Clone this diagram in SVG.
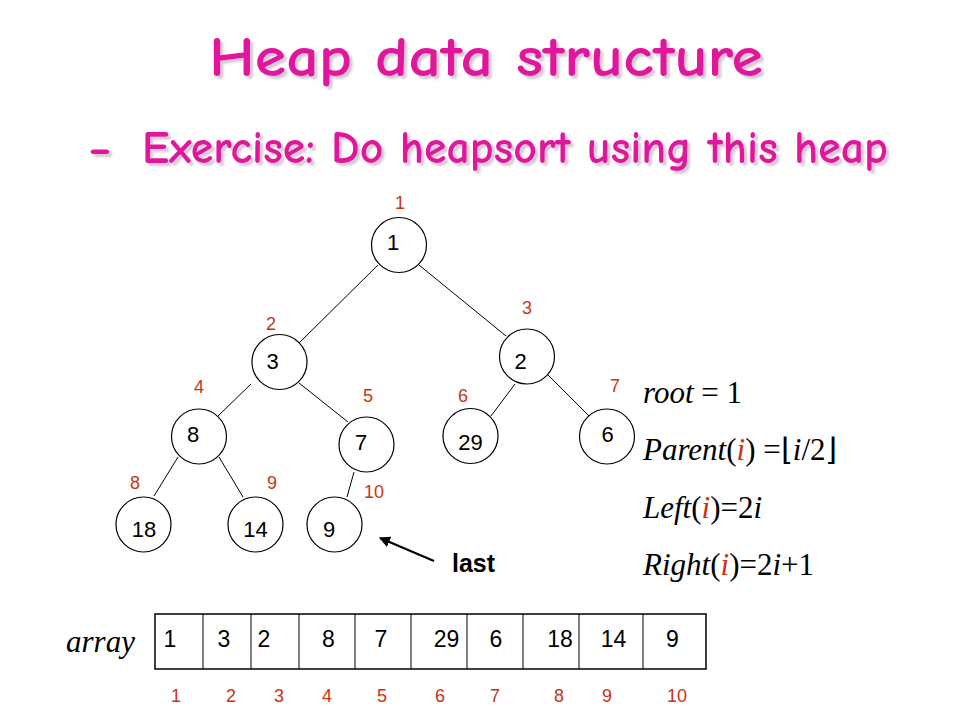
<svg xmlns="http://www.w3.org/2000/svg" width="960" height="720" viewBox="0 0 960 720">
<style>
.title{font-family:"Comic Sans MS","Comic Neue","Open Sans",sans-serif;fill:#e0139c;font-weight:bold}
.node circle{fill:#fff;stroke:#000;stroke-width:1.2}
.val{font-family:"Liberation Sans",Arial,sans-serif;font-size:22px;fill:#000;text-anchor:middle}
.idx{font-family:"Liberation Sans",Arial,sans-serif;font-size:18px;fill:#cc3311;text-anchor:middle}
.edge{stroke:#000;stroke-width:1;fill:none}
.f{font-family:"Liberation Serif","Times New Roman",serif;font-size:31px;fill:#000}
.it{font-style:italic}
.ri{fill:#cc3311;font-style:italic}
.cell{fill:#fff;stroke:#000;stroke-width:1.5}
.aval{font-family:"Liberation Sans",Arial,sans-serif;font-size:23px;fill:#000;text-anchor:middle}
</style>
<defs>
<marker id="ah" viewBox="0 0 10 10" refX="9" refY="5" markerWidth="5" markerHeight="5" orient="auto" markerUnits="strokeWidth">
<path d="M0,0 L10,5 L0,10 z" fill="#000"/>
</marker>
<filter id="sh" x="-5%" y="-20%" width="110%" height="150%">
<feDropShadow dx="3" dy="3" stdDeviation="1.2" flood-color="#b898b0" flood-opacity="0.55"/>
</filter>
</defs>
<rect width="960" height="720" fill="#fff"/>

<g id="title" filter="url(#sh)">
<text class="title" x="209" y="76" font-size="57" textLength="554" lengthAdjust="spacingAndGlyphs">Heap data structure</text>
<text class="title" x="88" y="163" font-size="46" textLength="24" lengthAdjust="spacingAndGlyphs">-</text>
<text class="title" x="142" y="163" font-size="46" textLength="746" lengthAdjust="spacingAndGlyphs">Exercise: Do heapsort using this heap</text>
</g>

<g id="connectors">
<line class="edge" x1="378" y1="265" x2="298" y2="344"/>
<line class="edge" x1="419" y1="265" x2="506" y2="336"/>
<line class="edge" x1="251" y1="384" x2="218" y2="416"/>
<line class="edge" x1="299" y1="383" x2="348" y2="422"/>
<line class="edge" x1="515" y1="384" x2="491" y2="416"/>
<line class="edge" x1="547" y1="374" x2="589" y2="416"/>
<line class="edge" x1="178" y1="457" x2="154" y2="496"/>
<line class="edge" x1="219" y1="457" x2="243" y2="497"/>
<line class="edge" x1="354" y1="472" x2="347" y2="497"/>
<line x1="434" y1="561" x2="380" y2="538" stroke="#000" stroke-width="2.2" marker-end="url(#ah)"/>
</g>

<g id="n1" class="node"><circle cx="399" cy="245" r="27.5"/><text class="val" x="393" y="250">1</text></g>
<g id="n2" class="node"><circle cx="279.5" cy="362" r="27.5"/><text class="val" x="272.5" y="369">3</text></g>
<g id="n3" class="node"><circle cx="527" cy="356.5" r="27.5"/><text class="val" x="520.5" y="369">2</text></g>
<g id="n4" class="node"><circle cx="199" cy="436.5" r="27.5"/><text class="val" x="193" y="442">8</text></g>
<g id="n5" class="node"><circle cx="366.5" cy="444.5" r="27.5"/><text class="val" x="361" y="450">7</text></g>
<g id="n6" class="node"><circle cx="470.5" cy="436" r="27.5"/><text class="val" x="470.5" y="450">29</text></g>
<g id="n7" class="node"><circle cx="607" cy="436.5" r="27.5"/><text class="val" x="607.5" y="442">6</text></g>
<g id="n8" class="node"><circle cx="143.5" cy="524.5" r="27.5"/><text class="val" x="144" y="537">18</text></g>
<g id="n9" class="node"><circle cx="255.5" cy="524.5" r="27.5"/><text class="val" x="255.5" y="537">14</text></g>
<g id="n10" class="node"><circle cx="334.5" cy="524.5" r="27.5"/><text class="val" x="329" y="537">9</text></g>

<g id="tree-indices">
<text class="idx" x="400" y="209">1</text>
<text class="idx" x="271" y="330">2</text>
<text class="idx" x="527" y="314">3</text>
<text class="idx" x="199" y="393">4</text>
<text class="idx" x="368" y="402">5</text>
<text class="idx" x="463" y="402">6</text>
<text class="idx" x="615" y="392">7</text>
<text class="idx" x="135" y="489">8</text>
<text class="idx" x="272" y="489">9</text>
<text class="idx" x="374" y="498">10</text>
</g>

<g id="last-label">
<text x="452" y="572" font-family="Liberation Sans, Arial, sans-serif" font-size="25" font-weight="bold" fill="#000">last</text>
</g>

<g id="formulas">
<text class="f" x="643" y="403"><tspan class="it">root</tspan> = 1</text>
<text class="f" x="643" y="460"><tspan class="it">Parent</tspan>(<tspan class="ri">i</tspan>) =⌊<tspan class="it">i</tspan>/2⌋</text>
<text class="f" x="643" y="518"><tspan class="it">Left</tspan>(<tspan class="ri">i</tspan>)=2<tspan class="it">i</tspan></text>
<text class="f" x="643" y="575"><tspan class="it">Right</tspan>(<tspan class="ri">i</tspan>)=2<tspan class="it">i</tspan>+1</text>
</g>

<g id="array">
<text class="f it" x="66" y="652" font-size="32">array</text>
<rect class="cell" x="155" y="614" width="551" height="55"/>
<line class="edge" x1="203" y1="614" x2="203" y2="669"/>
<line class="edge" x1="251" y1="614" x2="251" y2="669"/>
<line class="edge" x1="299" y1="614" x2="299" y2="669"/>
<line class="edge" x1="355" y1="614" x2="355" y2="669"/>
<line class="edge" x1="411" y1="614" x2="411" y2="669"/>
<line class="edge" x1="467" y1="614" x2="467" y2="669"/>
<line class="edge" x1="523" y1="614" x2="523" y2="669"/>
<line class="edge" x1="579" y1="614" x2="579" y2="669"/>
<line class="edge" x1="643" y1="614" x2="643" y2="669"/>
<text class="aval" x="170" y="647">1</text>
<text class="aval" x="224" y="647">3</text>
<text class="aval" x="264" y="647">2</text>
<text class="aval" x="328.5" y="647">8</text>
<text class="aval" x="381" y="647">7</text>
<text class="aval" x="446.5" y="647">29</text>
<text class="aval" x="496" y="647">6</text>
<text class="aval" x="560" y="647">18</text>
<text class="aval" x="613.5" y="647">14</text>
<text class="aval" x="672.5" y="647">9</text>
<text class="idx" x="176" y="702">1</text>
<text class="idx" x="231" y="702">2</text>
<text class="idx" x="279" y="702">3</text>
<text class="idx" x="327" y="702">4</text>
<text class="idx" x="382" y="702">5</text>
<text class="idx" x="440" y="702">6</text>
<text class="idx" x="495" y="702">7</text>
<text class="idx" x="559" y="702">8</text>
<text class="idx" x="607" y="702">9</text>
<text class="idx" x="677" y="702">10</text>
</g>
</svg>
